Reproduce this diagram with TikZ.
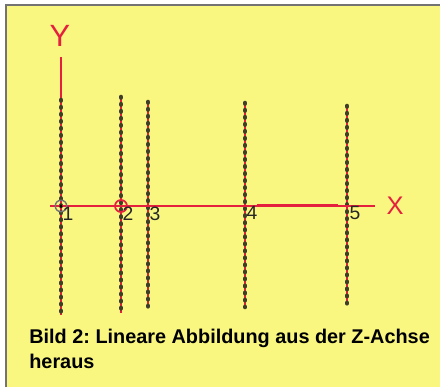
\documentclass[tikz,border=0pt]{standalone}
\usepackage{fontspec}
\setmainfont{Liberation Sans}
\usetikzlibrary{positioning}
\frenchspacing
\definecolor{paper}{RGB}{250,247,128}
\definecolor{axisred}{RGB}{228,32,62}
\definecolor{beadgreen}{RGB}{62,62,42}
\tikzset{
    axisline/.style={draw=axisred, line width=1.1pt},
    beadline/.style={draw=axisred, line width=1pt,
        postaction={draw=beadgreen, line width=2.6pt, line cap=round, dash pattern=on 0.3pt off 3.7pt}},
    axislabel/.style={text=axisred, inner sep=0pt},
    numlabel/.style={text=black!85, inner sep=0pt, font=\fontsize{11}{12}\selectfont},
    caption/.style={inner sep=0pt, align=left, font=\fontsize{11.3}{13.7}\selectfont\bfseries},
}
\begin{document}
\begin{tikzpicture}[x=0.02cm, y=-0.02cm]
    \useasboundingbox (0,0) rectangle (440,387);
    \fill[white] (0,0) rectangle (440,387);
    \fill[paper] (6,5) rectangle (440,387);
    \draw[black!55, line width=0.8pt] (6,387) -- (6,5) -- (440,5);

    % ends of the lines
    \coordinate (ytop) at (61,57);
    \coordinate (top1) at (61,100);  \coordinate (bot1) at (61,315);
    \coordinate (top2) at (121,97);  \coordinate (bot2) at (121,313);
    \coordinate (top3) at (148,102); \coordinate (bot3) at (148,308);
    \coordinate (top4) at (245,103); \coordinate (bot4) at (245,307);
    \coordinate (top5) at (347,106); \coordinate (bot5) at (347,305);
    \coordinate (xleft) at (50,206);
    \coordinate (xright) at (375,206);
    \coordinate (c1) at (61,206);
    \coordinate (c2) at (121,206);

    \draw[axisline] (ytop) -- (bot1);
    \draw[beadline] (top1) -- (bot1);
    \draw[beadline] (top2) -- (bot2);
    \draw[beadline] (top3) -- (bot3);
    \draw[beadline] (top4) -- (bot4);
    \draw[beadline] (top5) -- (bot5);
    \draw[axisline] (xleft) -- (xright);
    \coordinate (seg4) at (257,205);
    \coordinate (seg5) at (338,205);
    \draw[draw=axisred, line width=1.7pt] (seg4) -- (seg5);

    \node[circle, draw=black!55, line width=0.8pt, minimum size=0.23cm, inner sep=0pt] (mark1) at (c1) {};
    \node[circle, fill=black, minimum size=0.07cm, inner sep=0pt] (dot1) at (c1) {};
    \node[circle, draw=axisred, line width=1pt, minimum size=0.24cm, inner sep=0pt] (mark2) at (c2) {};

    \node[axislabel, font=\fontsize{17.5}{18}\selectfont] (ylab) at (60,36) {Y};
    \node[axislabel, font=\fontsize{14.5}{15}\selectfont] (xlab) at (395,206) {X};

    \node[numlabel] (n1) at (68,214) {1};
    \node[numlabel] (n2) at (128,214) {2};
    \node[numlabel] (n3) at (155,214) {3};
    \node[numlabel] (n4) at (252,213) {4};
    \node[numlabel] (n5) at (355,213) {5};

    \node[caption, anchor=base west] (cap) at (29,368) {Bild 2: Lineare Abbildung aus der Z-Achse\\heraus};
\end{tikzpicture}
\end{document}
